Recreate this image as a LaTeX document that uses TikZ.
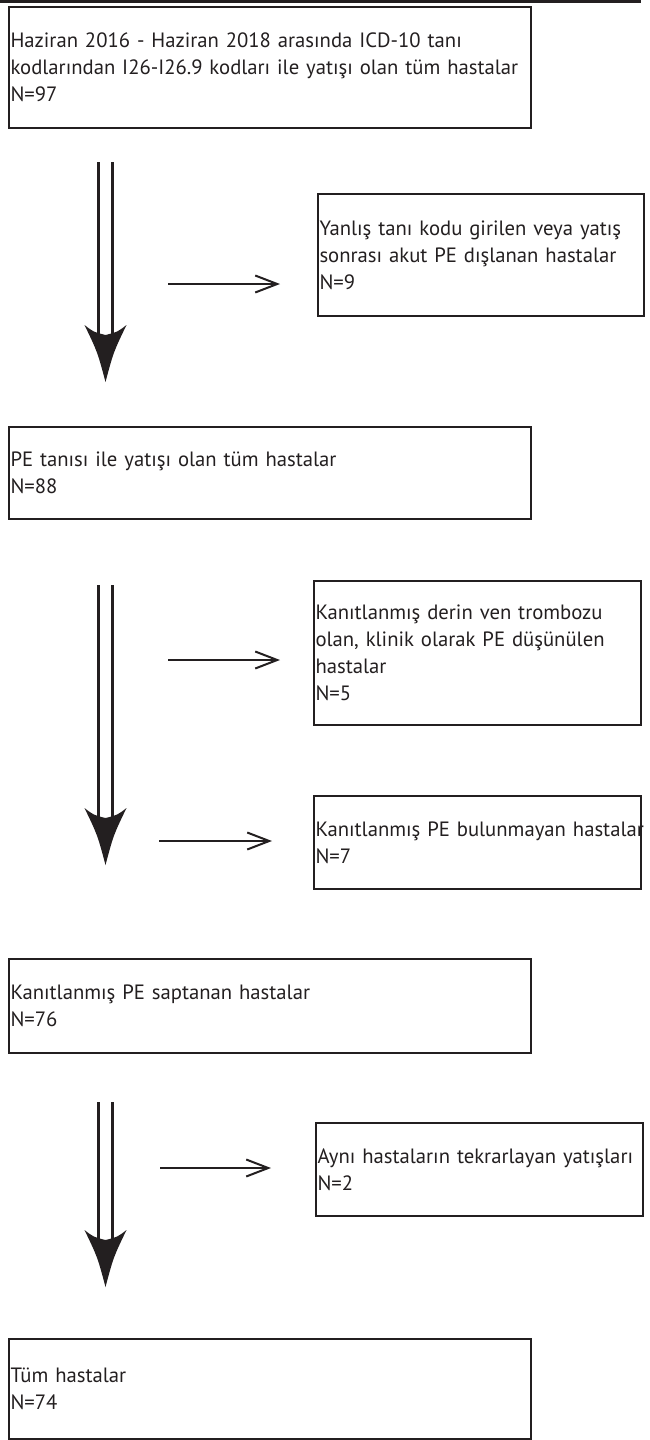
\documentclass[tikz,border=0pt]{standalone}
\usepackage{fontspec}
\setmainfont{PT Sans}
\usetikzlibrary{arrows.meta}
\definecolor{ink}{HTML}{231F20}
\begin{document}
\begin{tikzpicture}[x=1pt,y=-1pt,
  box/.style n args={3}{draw=ink, line width=2pt, anchor=north west,
    inner xsep=1.5pt, inner ysep=0pt, minimum width=#1, minimum height=#2,
    text width=#3, align=left, text=ink,
    font=\fontsize{20.7}{27}\selectfont},
  shaft/.style={draw=ink, double=white, double distance=11.8pt, line width=2.2pt},
  side/.style={draw=ink, line width=2pt, -{Straight Barb[length=22pt,width=17pt]}},
  bighead/.pic={\fill[ink] (0,0) .. controls (-8,-30) .. (-21,-57)
      .. controls (-12,-50) .. (0,-47) .. controls (12,-50) .. (21,-57)
      .. controls (8,-30) .. (0,0) -- cycle;}
]
\useasboundingbox (0,0) rectangle (649,1440);
\draw[ink, line width=2.5pt] (0,1.25) -- (641,1.25);

\node[box={522}{121}{519}] (b1) at (8,6)
  {Haziran 2016 - Haziran 2018 arasında ICD-10 tanı\\\mbox{kodlarından I26-I26.9 kodları ile yatışı olan tüm hastalar}\\N=97};
\node[box={326}{122}{323}] (b2) at (317,193)
  {Yanlış tanı kodu girilen veya yatış\\sonrası akut PE dışlanan hastalar\\N=9};
\node[box={522}{92}{519}] (b3) at (8,426)
  {PE tanısı ile yatışı olan tüm hastalar\\N=88};
\node[box={327}{144}{324}] (b4) at (313,580)
  {Kanıtlanmış derin ven trombozu\\olan, klinik olarak PE düşünülen\\hastalar\\N=5};
\node[box={327}{93}{324}] (b5) at (313,795)
  {\mbox{Kanıtlanmış PE bulunmayan hastalar}\\N=7};
\node[box={522}{94}{519}] (b6) at (8,958)
  {Kanıtlanmış PE saptanan hastalar\\N=76};
\node[box={327}{93}{324}] (b7) at (315,1122)
  {\mbox{Aynı hastaların tekrarlayan yatışları}\\N=2};
\node[box={522}{100}{519}] (b8) at (8,1338)
  {Tüm hastalar\\N=74};

% main downward arrows
\coordinate (d1s) at (105.5,162);  \coordinate (d1n) at (105.5,336);  \coordinate (d1t) at (105.5,382);
\coordinate (d2s) at (105.5,585);  \coordinate (d2n) at (105.5,819);  \coordinate (d2t) at (105.5,865);
\coordinate (d3s) at (105.5,1102); \coordinate (d3n) at (105.5,1241); \coordinate (d3t) at (105.5,1287);
\draw[shaft] (d1s) -- (d1n);
\draw[shaft] (d2s) -- (d2n);
\draw[shaft] (d3s) -- (d3n);
\pic at (d1t) {bighead};
\pic at (d2t) {bighead};
\pic at (d3t) {bighead};

% side arrows
\coordinate (h1s) at (168,284);  \coordinate (h1e) at (280,284);
\coordinate (h2s) at (168,660);  \coordinate (h2e) at (280,660);
\coordinate (h3s) at (159,841);  \coordinate (h3e) at (272,841);
\coordinate (h4s) at (160,1168); \coordinate (h4e) at (271,1168);
\draw[side] (h1s) -- (h1e);
\draw[side] (h2s) -- (h2e);
\draw[side] (h3s) -- (h3e);
\draw[side] (h4s) -- (h4e);
\end{tikzpicture}
\end{document}
